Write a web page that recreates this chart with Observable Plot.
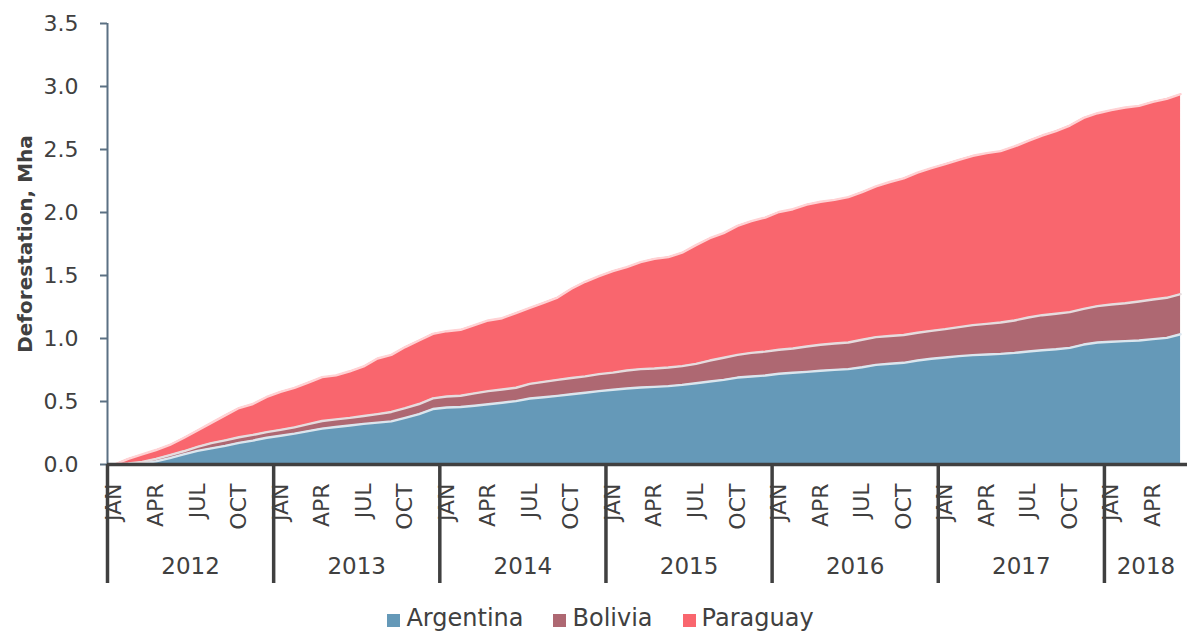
<!DOCTYPE html>
<html>
<head>
<meta charset="utf-8">
<script src="https://cdn.jsdelivr.net/npm/d3@7"></script>
<script src="https://cdn.jsdelivr.net/npm/@observablehq/plot@0.6"></script>
<style>
  body { margin: 0; background: #fff; font-family: "DejaVu Sans", sans-serif; }
  #legend { height: 40px; margin-top: 3px; display: flex; justify-content: center; align-items: center; gap: 30px; padding-left: 14px; font-size: 24px; color: #404040; }
  .item { display: flex; align-items: center; gap: 6px; }
  .sw { width: 13px; height: 13px; display: inline-block; margin-top: 4px; }
</style>
</head>
<body>
<div id="chart"></div>
<div id="legend"></div>
<script>
const countries = ["Argentina", "Bolivia", "Paraguay"];
const colors = ["#6599b8", "#ae6872", "#f9666e"];
const edgeColors = ["#dbe6ee", "#e6dcde", "#ffd2d4"];
const years = [2012, 2013, 2014, 2015, 2016, 2017, 2018];
const monthsPerYear = [12, 12, 12, 12, 12, 12, 6];
const monthNames = ["JAN","FEB","MAR","APR","MAY","JUN","JUL","AUG","SEP","OCT","NOV","DEC"];
const yTicks = [0, 0.5, 1.0, 1.5, 2.0, 2.5, 3.0, 3.5];

// Cumulative deforestation by country, Mha, monthly Jan 2012 – Jun 2018
const argentina = [
  0, 0.002, 0.008, 0.025, 0.05, 0.08, 0.108, 0.128, 0.148, 0.172,
  0.19, 0.212, 0.228, 0.245, 0.265, 0.285, 0.298, 0.31, 0.322, 0.332,
  0.342, 0.37, 0.4, 0.44, 0.452, 0.456, 0.466, 0.478, 0.49, 0.503,
  0.524, 0.534, 0.545, 0.558, 0.569, 0.582, 0.593, 0.603, 0.611, 0.616,
  0.622, 0.632, 0.645, 0.659, 0.672, 0.69, 0.698, 0.706, 0.72, 0.728,
  0.735, 0.744, 0.751, 0.757, 0.772, 0.791, 0.8, 0.807, 0.825, 0.839,
  0.849, 0.86, 0.868, 0.873, 0.878, 0.886, 0.897, 0.907, 0.915, 0.926,
  0.952, 0.968, 0.974, 0.979, 0.984, 0.995, 1.005, 1.034
];
const bolivia = [
  0, 0.006, 0.012, 0.02, 0.025, 0.025, 0.032, 0.042, 0.044, 0.044,
  0.045, 0.045, 0.047, 0.05, 0.055, 0.06, 0.06, 0.06, 0.063, 0.068,
  0.075, 0.077, 0.08, 0.085, 0.088, 0.09, 0.099, 0.104, 0.105, 0.106,
  0.116, 0.122, 0.127, 0.128, 0.13, 0.135, 0.136, 0.143, 0.146, 0.146,
  0.148, 0.149, 0.154, 0.166, 0.175, 0.18, 0.188, 0.19, 0.191, 0.193,
  0.202, 0.206, 0.209, 0.211, 0.218, 0.22, 0.22, 0.221, 0.221, 0.222,
  0.225, 0.23, 0.238, 0.243, 0.249, 0.257, 0.27, 0.278, 0.281, 0.283,
  0.283, 0.289, 0.296, 0.301, 0.31, 0.315, 0.318, 0.318
];
const paraguay = [
  0, 0.037, 0.06, 0.07, 0.08, 0.105, 0.13, 0.16, 0.198, 0.232,
  0.245, 0.279, 0.302, 0.313, 0.33, 0.348, 0.349, 0.37, 0.393, 0.441,
  0.453, 0.485, 0.504, 0.512, 0.518, 0.523, 0.541, 0.561, 0.566, 0.593,
  0.603, 0.627, 0.653, 0.709, 0.751, 0.778, 0.806, 0.82, 0.849, 0.87,
  0.876, 0.9, 0.942, 0.971, 0.989, 1.024, 1.045, 1.064, 1.093, 1.105,
  1.126, 1.135, 1.14, 1.154, 1.172, 1.196, 1.222, 1.243, 1.27, 1.291,
  1.31, 1.328, 1.344, 1.355, 1.36, 1.381, 1.402, 1.426, 1.45, 1.481,
  1.516, 1.531, 1.542, 1.553, 1.552, 1.568, 1.579, 1.587
];

const series = [argentina, bolivia, paraguay];
const nMonths = argentina.length;
const rows = [];
for (let i = 0; i < nMonths; i++) {
  countries.forEach((c, k) => rows.push({i, country: c, value: series[k][i]}));
}

// axis tick positions (month index units)
const yearStarts = [];
const yearCenters = [];
let acc = 0;
monthsPerYear.forEach((n) => { yearStarts.push(acc - 0.5); yearCenters.push(acc + (n - 1) / 2); acc += n; });
const monthTicks = d3.range(0, nMonths, 3);

const edgeLine = (k) => Plot.lineY(rows, Plot.stackY2({
  x: "i", y: "value", z: "country",
  stroke: edgeColors[k], strokeWidth: 2.4,
  strokeOpacity: d => d.country === countries[k] ? 1 : 0
}));

const plot = Plot.plot({
  width: 1187,
  height: 595,
  marginTop: 23,
  marginBottom: 131,
  marginLeft: 107,
  marginRight: 0,
  style: {fontFamily: "DejaVu Sans, sans-serif", color: "#404040", background: "#fff", overflow: "visible"},
  x: {domain: [-0.5, nMonths - 0.5], label: null},
  y: {domain: [0, 3.5], label: null},
  color: {domain: countries, range: colors},
  opacity: {domain: [0, 1], range: [0, 1]},
  marks: [
    Plot.areaY(rows, {x: "i", y: "value", z: "country", fill: "country"}),
    edgeLine(0), edgeLine(1), edgeLine(2),
    Plot.axisY({ticks: yTicks, tickSize: 7, tickPadding: 22, tickFormat: d3.format(".1f"), fontSize: 22, stroke: "#5b7083", strokeWidth: 2, fill: "#404040", label: null}),
    Plot.ruleX([-0.5], {stroke: "#5b7083", strokeWidth: 2}),
    Plot.ruleY([0], {stroke: "#404040", strokeWidth: 3.5}),
    Plot.axisX(yearStarts, {tickSize: 119, stroke: "#404040", strokeWidth: 3.5, tickFormat: () => "", label: null}),
    Plot.axisX(monthTicks, {tickSize: 0, tickRotate: -90, tickPadding: 19, fontSize: 22, fill: "#404040", tickFormat: d => monthNames[d % 12], label: null}),
    Plot.axisX(yearCenters, {tickSize: 0, tickPadding: 93, fontSize: 23, fill: "#404040", tickFormat: d => String(years[Math.floor((d + 0.5) / 12)]), label: null}),
    Plot.text(["Deforestation, Mha"], {frameAnchor: "left", textAnchor: "middle", dx: -82, rotate: -90, fontWeight: "bold", fontSize: 20, fill: "#404040"})
  ]
});
document.getElementById("chart").append(plot);

const legend = document.getElementById("legend");
countries.forEach((c, k) => {
  const it = document.createElement("div");
  it.className = "item";
  const sw = document.createElement("span");
  sw.className = "sw";
  sw.style.background = colors[k];
  const t = document.createElement("span");
  t.textContent = c;
  it.append(sw, t);
  legend.append(it);
});
</script>
</body>
</html>
